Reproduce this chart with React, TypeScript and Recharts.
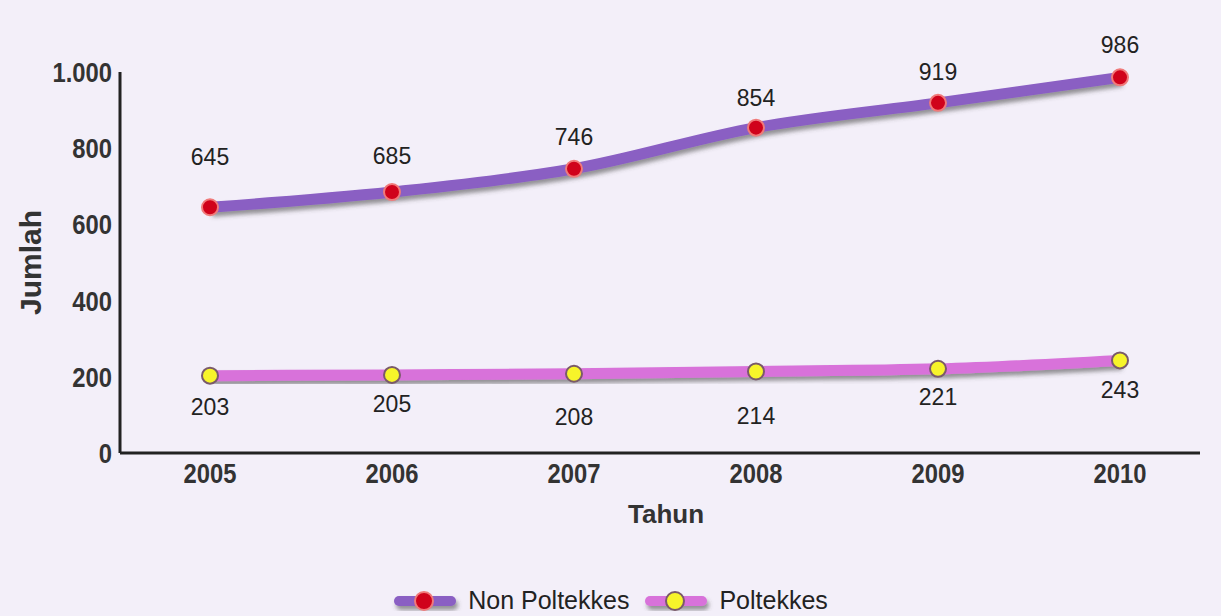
import { LineChart, Line, XAxis, YAxis, Legend, LabelList } from 'recharts';

const years = ['2005', '2006', '2007', '2008', '2009', '2010'];
const nonPoltekkes = [645, 685, 746, 854, 919, 986];
const poltekkes = [203, 205, 208, 214, 221, 243];
const yTicks = [0, 200, 400, 600, 800, 1000];

// label nudges (px) to sit the numbers the way the original does
const nonLabelDy = [-50, -36, -32, -30, -31, -32];
const polLabelDy = [31, 29, 43, 45, 28, 30];

const data = years.map((y, i) => ({ year: y, non: nonPoltekkes[i], pol: poltekkes[i] }));

const PURPLE = '#8a5ec3';
const PINK = '#d872da';
const RED = '#d0021b';
const YELLOW = '#f7f42a';
const FONT = '"Liberation Sans", Arial, sans-serif';

const fmt = (v: number) => (v >= 1000 ? v.toLocaleString('de-DE') : String(v));

// the original uses a narrow bold face, so squeeze Arial a bit
const NarrowTick = (props: any) => {
    const { x, y, payload, textAnchor, axis } = props;
    const label = axis === 'y' ? fmt(payload.value) : payload.value;
    return (
        <text
            transform={`translate(${x},${y}) scale(0.85,1)`}
            textAnchor={textAnchor}
            dy={axis === 'y' ? '0.36em' : '0.71em'}
            fontSize={28}
            fontWeight="bold"
            fontFamily={FONT}
            fill="#333"
        >
            {label}
        </text>
    );
};

const makeLabel = (offsets: number[]) => (props: any) => {
    const { x, y, value, index } = props;
    return (
        <text
            x={x}
            y={y + offsets[index]}
            textAnchor="middle"
            dominantBaseline="central"
            fontSize={23}
            fontFamily={FONT}
            fill="#222"
        >
            {value}
        </text>
    );
};

const LegendIcon = ({ line, dot, ring }: { line: string; dot: string; ring: string }) => (
    <svg width={66} height={26} style={{ overflow: 'visible' }}>
        <rect x={2} y={8} width={62} height={10} rx={5} fill={line} filter="url(#lineShadow)" />
        <circle cx={32} cy={13} r={9} fill={dot} stroke={ring} strokeWidth={2} />
    </svg>
);

const renderLegend = () => (
    <div style={{ display: 'flex', justifyContent: 'center', alignItems: 'center', gap: 14, fontFamily: FONT, fontSize: 25, color: '#222', paddingLeft: 20 }}>
        <span style={{ display: 'flex', alignItems: 'center', gap: 10 }}>
            <LegendIcon line={PURPLE} dot={RED} ring="#f07a7a" />
            Non Poltekkes
        </span>
        <span style={{ display: 'flex', alignItems: 'center', gap: 10 }}>
            <LegendIcon line={PINK} dot={YELLOW} ring="#7a5a6a" />
            Poltekkes
        </span>
    </div>
);

export default function App() {
    return (
        <div style={{ position: 'absolute', top: 0, left: 0, width: 1221, height: 616, background: '#f3eff9' }}>
            <svg width={0} height={0} style={{ position: 'absolute' }}>
                <defs>
                    <filter id="lineShadow" x="-10%" y="-50%" width="120%" height="200%">
                        <feDropShadow dx={2} dy={4} stdDeviation={2} floodColor="#444" floodOpacity={0.55} />
                    </filter>
                </defs>
            </svg>
            <LineChart width={1221} height={616} data={data} margin={{ top: 72, right: 21, left: 0, bottom: 0 }}>
                <XAxis
                    dataKey="year"
                    height={133}
                    padding={{ left: 90, right: 80 }}
                    axisLine={{ stroke: '#222', strokeWidth: 3 }}
                    tickLine={false}
                    tickMargin={4}
                    tick={<NarrowTick axis="x" />}
                    label={{ value: 'Tahun', position: 'insideTop', offset: 52, dx: 6, fill: '#333', fontSize: 26, fontWeight: 'bold', fontFamily: FONT }}
                />
                <YAxis
                    width={120}
                    domain={[0, 1000]}
                    ticks={yTicks}
                    axisLine={{ stroke: '#222', strokeWidth: 3 }}
                    tickLine={false}
                    tickMargin={2}
                    tick={<NarrowTick axis="y" />}
                    label={{ value: 'Jumlah', angle: -90, position: 'center', dx: -30, fill: '#333', fontSize: 30, fontWeight: 'bold', fontFamily: FONT }}
                />
                <Legend verticalAlign="bottom" height={30} content={renderLegend} />
                <Line
                    type="monotone"
                    dataKey="non"
                    name="Non Poltekkes"
                    stroke={PURPLE}
                    strokeWidth={11}
                    filter="url(#lineShadow)"
                    dot={{ r: 8, fill: RED, stroke: '#f07a7a', strokeWidth: 2, filter: 'none' }}
                    activeDot={false}
                    isAnimationActive={false}
                >
                    <LabelList dataKey="non" content={makeLabel(nonLabelDy)} />
                </Line>
                <Line
                    type="monotone"
                    dataKey="pol"
                    name="Poltekkes"
                    stroke={PINK}
                    strokeWidth={11}
                    filter="url(#lineShadow)"
                    dot={{ r: 8, fill: YELLOW, stroke: '#7a5a6a', strokeWidth: 2, filter: 'none' }}
                    activeDot={false}
                    isAnimationActive={false}
                >
                    <LabelList dataKey="pol" content={makeLabel(polLabelDy)} />
                </Line>
            </LineChart>
        </div>
    );
}
